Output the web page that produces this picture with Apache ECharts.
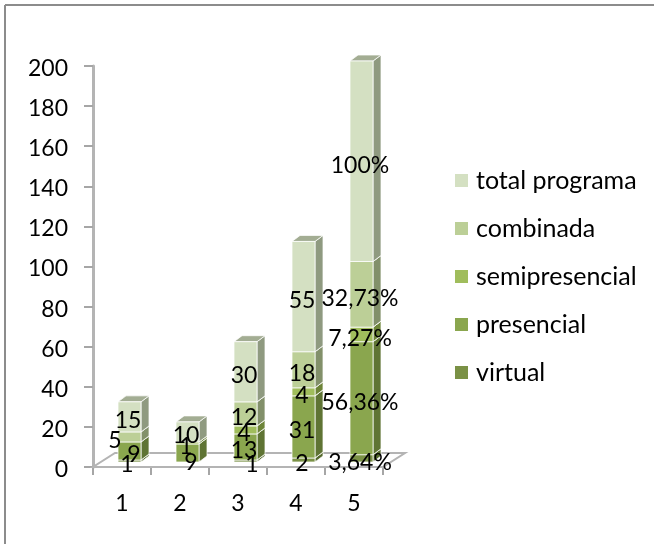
<!DOCTYPE html>
<html><head><meta charset="utf-8">
<style>html,body{margin:0;padding:0;background:#fff}#c{width:654px;height:544px}</style>
<script src="https://cdn.jsdelivr.net/npm/echarts@6/dist/echarts.min.js"></script>
</head><body><div id="c"></div>
<script>
const categories = ['1','2','3','4','5'];
const yTicksMax = 200;
const virtual = [1, 0, 1, 2, 3.64];
const presencial = [9, 9, 13, 31, 56.36];
const semipresencial = [0, 1, 4, 4, 7.27];
const combinada = [5, 0, 12, 18, 32.73];
const totalPrograma = [15, 10, 30, 55, 100];
const seriesNames = ['virtual','presencial','semipresencial','combinada','total programa'];
const seriesValues = [virtual, presencial, semipresencial, combinada, totalPrograma];
const frontColors = ['#7a9145','#8aa64e','#a0bd5c','#bccf97','#d4e0c2'];
const sideColors  = ['#566a2e','#5f7434','#6d8438','#82906a','#8f9a80'];
const topColors   = ['#8c9a6a','#8c9a6a','#a0ad80','#a3ad93','#a3ad93'];

const FONT = 'Lato, "Open Sans", sans-serif';
const BAR_DX = -4, BAR_W = 23, BAR_LIFT = 5, DEPTH_X = 8, DEPTH_Y = 6;
const FLOOR_X = 22, FLOOR_Y = 14;
// hand-placed labels in the original: [series, category] -> [dx, dy]
const labelNudge = {'3,0':[-13,0],'1,0':[6,0],'0,0':[-1,0],'1,1':[5,6],'0,2':[8,0]};

function stackData(si){
  return categories.map((c,i)=>{
    let start = 0;
    for(let k=0;k<si;k++) start += seriesValues[k][i];
    return [i, start, start + seriesValues[si][i]];
  });
}
function fmt(v,cat){
  if(cat<4) return String(v);
  return (v===100 ? '100' : v.toFixed(2).replace('.',',')) + '%';
}
function barSeries(si){
  return {
    type:'custom', name:seriesNames[si], z:3+si, silent:true,
    itemStyle:{color:frontColors[si]},
    encode:{x:0,y:[1,2]},
    data:stackData(si),
    renderItem(params,api){
      const v0=api.value(1), v1=api.value(2);
      if(v1<=v0) return {type:'group',children:[]};
      const a=api.coord([api.value(0),v0]), b=api.coord([api.value(0),v1]);
      const x0=a[0]+BAR_DX, x1=x0+BAR_W, y0=a[1]-BAR_LIFT, y1=b[1]-BAR_LIFT;
      const edge={stroke:'rgba(255,255,255,0.75)',lineWidth:1};
      return {type:'group',children:[
        {type:'polygon',shape:{points:[[x1,y0],[x1+DEPTH_X,y0-DEPTH_Y],[x1+DEPTH_X,y1-DEPTH_Y],[x1,y1]]},style:{fill:sideColors[si],...edge}},
        {type:'polygon',shape:{points:[[x0,y1],[x1,y1],[x1+DEPTH_X,y1-DEPTH_Y],[x0+DEPTH_X,y1-DEPTH_Y]]},style:{fill:topColors[si],...edge}},
        {type:'rect',shape:{x:x0,y:y1,width:BAR_W,height:y0-y1},style:{fill:frontColors[si],...edge}}
      ]};
    }
  };
}
const floorSeries = {
  type:'custom', z:1, silent:true, data:[[0,0]], encode:{x:0,y:1},
  renderItem(params,api){
    const a=api.coord([0,0]), s=api.size([1,0]);
    const l=a[0]-s[0]/2, r=l+s[0]*categories.length, y=a[1];
    return {type:'group',children:[
      {type:'polygon',shape:{points:[[l,y],[r,y],[r+FLOOR_X,y-FLOOR_Y],[l+FLOOR_X,y-FLOOR_Y]]},
       style:{fill:'#fff',stroke:'#b4b4b4',lineWidth:2}}
    ]};
  }
};
const labelData=[];
seriesValues.forEach((vals,si)=>{
  const d=stackData(si);
  vals.forEach((v,i)=>{ if(v>0) labelData.push([i,(d[i][1]+d[i][2])/2,si]); });
});
const labelSeries = {
  type:'custom', z:20, silent:true, data:labelData, encode:{x:0,y:1},
  renderItem(params,api){
    const cat=api.value(0), si=api.value(2);
    const p=api.coord([cat,api.value(1)]);
    const n=labelNudge[si+','+cat]||[0,0];
    return {type:'text',style:{
      x:p[0]+6+n[0], y:p[1]-1+n[1],
      text:fmt(seriesValues[si][cat],cat),
      font:'23px '+FONT, fill:'#000', align:'center', verticalAlign:'middle'
    }};
  }
};

const chart=echarts.init(document.getElementById('c'),null,{renderer:'canvas'});
chart.setOption({
  animation:false,
  backgroundColor:'#fff',
  graphic:[
    {type:'line',shape:{x1:5,y1:5,x2:654,y2:5},style:{stroke:'#8c8c8c',lineWidth:2},z:0},
    {type:'line',shape:{x1:5,y1:5,x2:5,y2:544},style:{stroke:'#8c8c8c',lineWidth:2},z:0}
  ],
  grid:{left:93,top:66,width:290,height:401},
  xAxis:{type:'category',data:categories,
    axisLine:{lineStyle:{color:'#b4b4b4',width:2}},
    axisTick:{show:true,length:8,lineStyle:{color:'#a6a6a6',width:2}},
    axisLabel:{color:'#000',fontSize:23,fontFamily:FONT,margin:25},
    splitLine:{show:false}},
  yAxis:{type:'value',min:0,max:yTicksMax,interval:20,
    axisLine:{show:true,lineStyle:{color:'#b4b4b4',width:3}},
    axisTick:{show:true,length:9,lineStyle:{color:'#a6a6a6',width:2}},
    axisLabel:{color:'#000',fontFamily:FONT,margin:25,formatter:'{n|{value}}',
      rich:{n:{color:'#000',fontSize:23,fontFamily:FONT,padding:[5,0,0,0]}}},
    splitLine:{show:false}},
  legend:{orient:'vertical',left:450,top:163,icon:'rect',itemWidth:13,itemHeight:13,itemGap:23,
    selectedMode:false,
    data:seriesNames.slice().reverse(),
    textStyle:{color:'#000',fontSize:25,fontFamily:FONT,padding:[0,0,0,3]}},
  series:[floorSeries,...seriesNames.map((n,i)=>barSeries(i)),labelSeries]
});
</script></body></html>
